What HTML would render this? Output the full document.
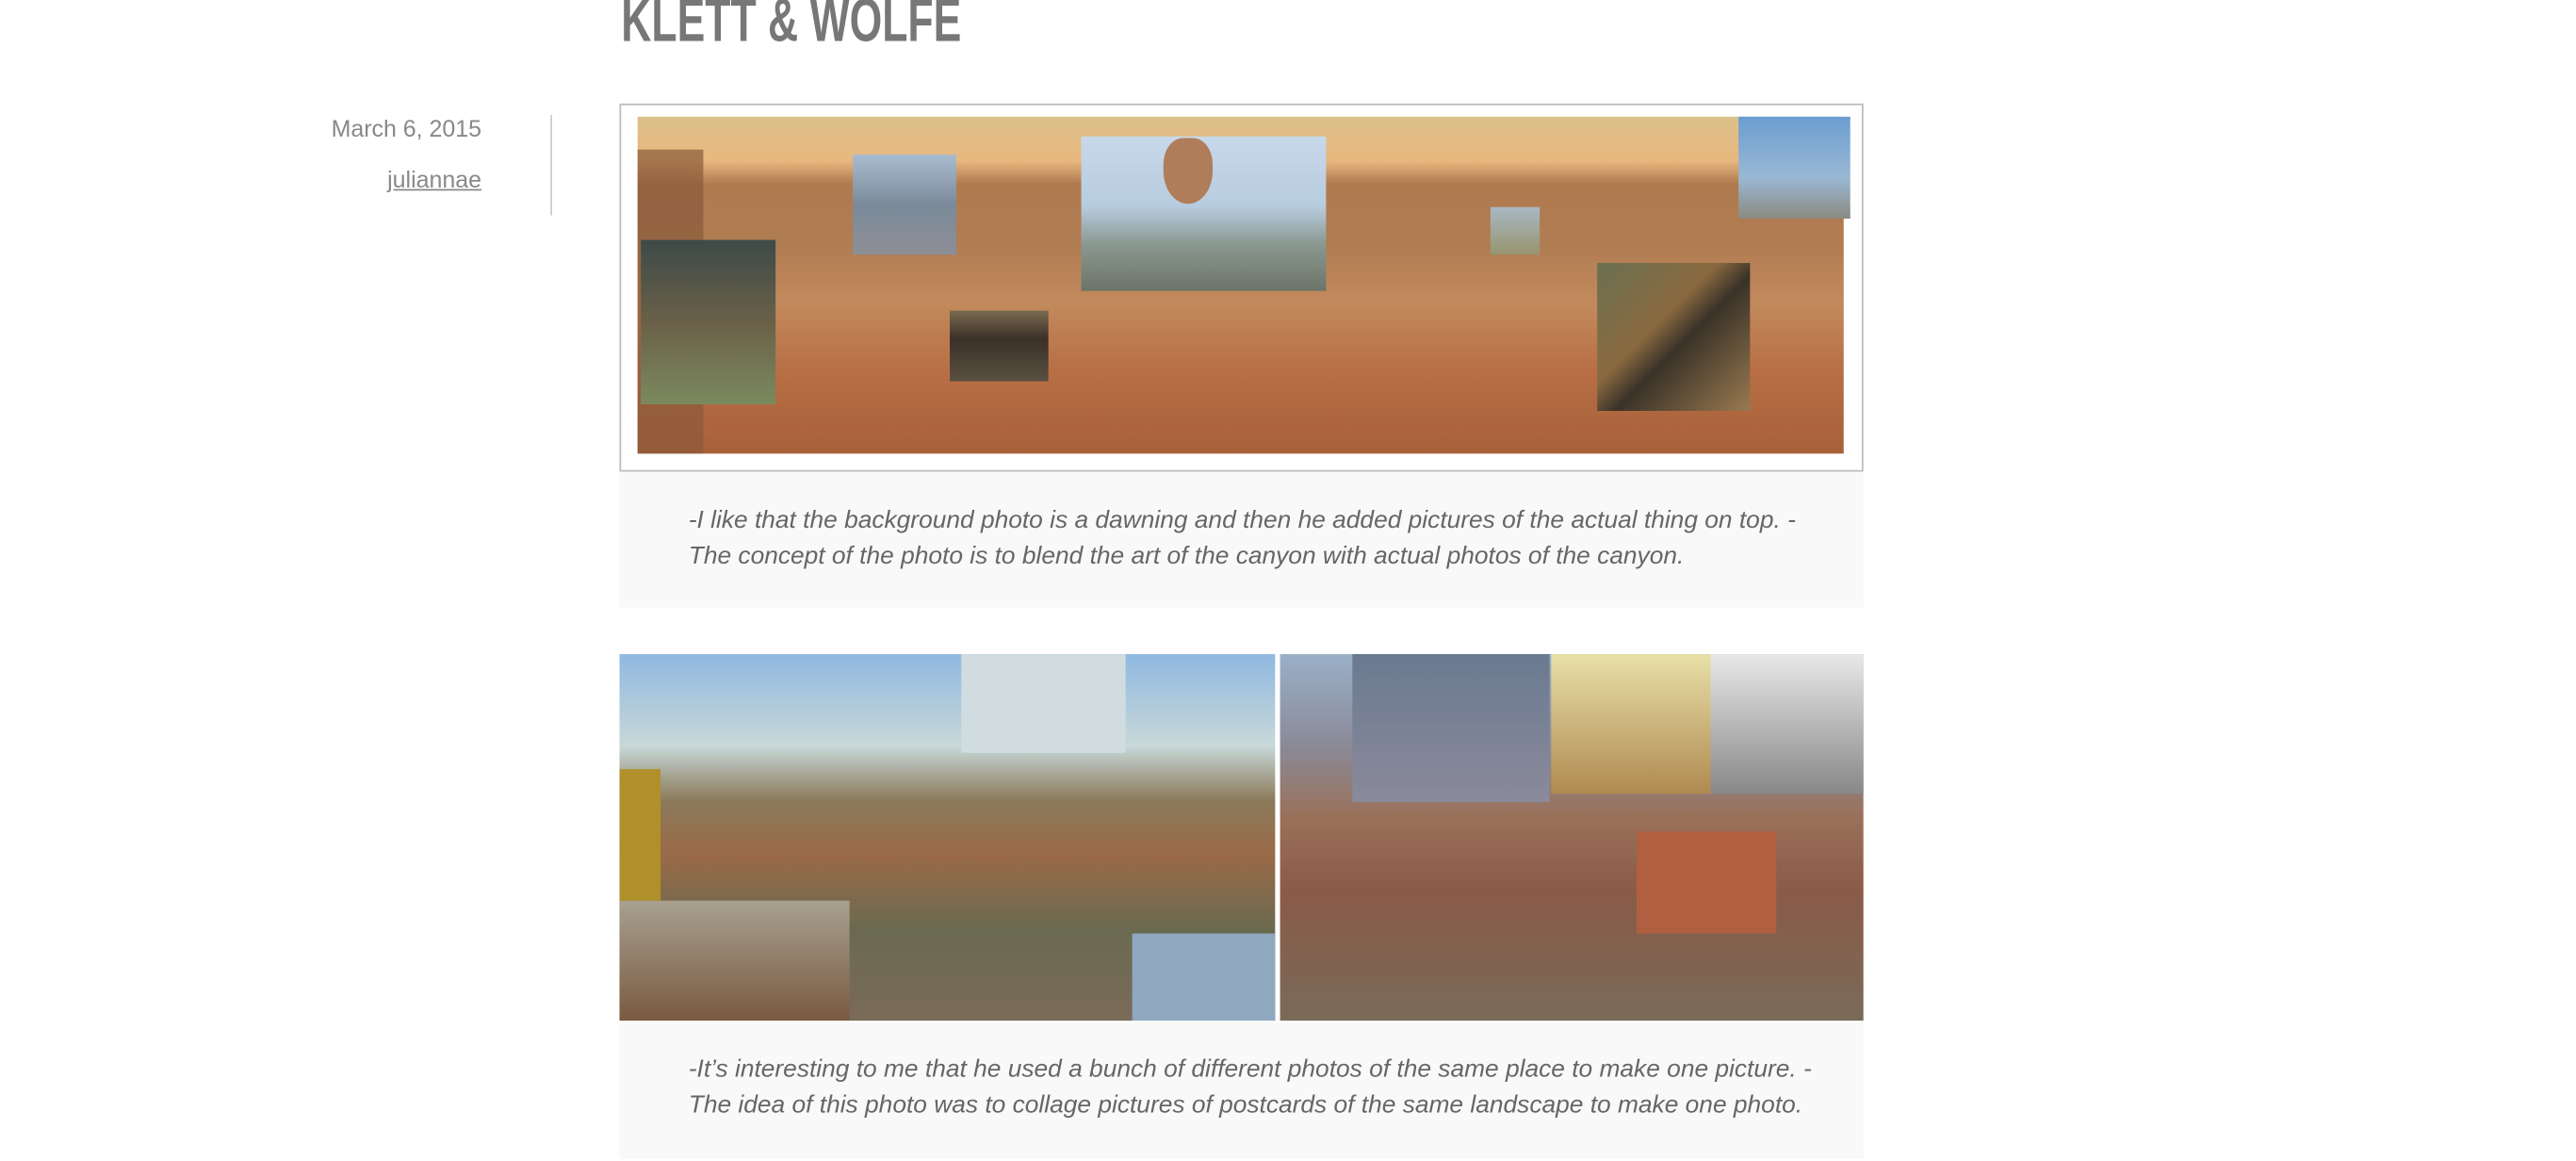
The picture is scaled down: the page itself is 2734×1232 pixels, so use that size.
<!DOCTYPE html>
<html><head><meta charset="utf-8">
<style>
html,body{margin:0;padding:0;background:#fff;width:2734px;height:1232px;overflow:hidden}
#wrap{position:absolute;left:0;top:0;width:1570px;height:706px;transform:scale(1.744);transform-origin:0 0;font-family:"Liberation Sans",sans-serif}
.abs{position:absolute}
.title{left:378px;top:-8px;font-size:37px;font-weight:bold;color:#777;transform:scaleX(0.69);transform-origin:0 0;white-space:nowrap}
.meta{font-size:14.3px;color:#888;text-align:right;right:1277px;white-space:nowrap}
.cap{background:#f9f9f9;left:377px;width:757px}
.cap p{margin:0;position:absolute;left:42px;font-style:italic;font-size:15.1px;color:#666;white-space:nowrap;line-height:22px}
.ov{position:absolute}
</style></head><body>
<div id="wrap">
<div class="abs title">KLETT &amp; WOLFE</div>
<div class="abs meta" style="top:71px">March 6, 2015</div>
<div class="abs meta" style="top:102px;text-decoration:underline">juliannae</div>
<div class="abs" style="left:335px;top:70px;width:1px;height:61px;background:#ccc"></div>

<div class="abs" style="left:377px;top:63px;width:755px;height:222px;border:1px solid #bbb;background:#fff">
 <div class="abs" style="left:10px;top:7px;width:734px;height:205px;background:linear-gradient(180deg,#dcc08a 0%,#e8b87f 13%,#b07a4f 20%,#b07c52 38%,#c28a5c 55%,#b86f45 75%,#a8603a 100%)">
  <div class="ov" style="left:0;top:20px;width:40px;height:185px;background:#8a5a3a;opacity:.7"></div>
  <div class="ov" style="left:2px;top:75px;width:82px;height:100px;background:linear-gradient(180deg,#3d4a48,#6a6048 50%,#7b8a5e)"></div>
  <div class="ov" style="left:131px;top:23px;width:63px;height:61px;background:linear-gradient(180deg,#a9bdd0,#7a8a9a 50%,#8e8e96)"></div>
  <div class="ov" style="left:190px;top:118px;width:60px;height:43px;background:linear-gradient(180deg,#7a6a50,#3a3028 40%,#5a5040)"></div>
  <div class="ov" style="left:270px;top:12px;width:149px;height:94px;background:linear-gradient(180deg,#c7d8ea,#b8cce0 45%,#8a9890 70%,#6c7468)"></div>
  <div class="ov" style="left:320px;top:13px;width:30px;height:40px;background:#b07d5a;border-radius:40% 40% 50% 50%"></div>
  <div class="ov" style="left:519px;top:55px;width:30px;height:29px;background:linear-gradient(180deg,#a8b8c4,#98946e)"></div>
  <div class="ov" style="left:584px;top:89px;width:93px;height:90px;background:linear-gradient(135deg,#6a7050,#8a6a40 40%,#3a3228 55%,#9a7a50)"></div>
  <div class="ov" style="left:670px;top:0;width:68px;height:62px;background:linear-gradient(180deg,#6a9ed0,#9ab8d4 60%,#8a8a80)"></div>
 </div>
</div>
<div class="abs cap" style="top:287px;height:83px">
 <p style="top:19px">-I like that the background photo is a dawning and then he added pictures of the actual thing on top. -</p>
 <p style="top:41px">The concept of the photo is to blend the art of the canyon with actual photos of the canyon.</p>
</div>

<div class="abs" style="left:377px;top:398px;width:399px;height:223px;background:linear-gradient(180deg,#8fb8e0 0%,#c8d8d8 25%,#8a7a5a 40%,#9a6a48 55%,#6a6a50 75%,#7a6a58 100%)">
 <div class="ov" style="left:0;top:150px;width:140px;height:73px;background:linear-gradient(180deg,#a8a090,#7a5a40)"></div>
 <div class="ov" style="left:208px;top:0;width:100px;height:60px;background:#d0dce0"></div>
 <div class="ov" style="left:312px;top:170px;width:87px;height:53px;background:#8fa8c0"></div>
 <div class="ov" style="left:0;top:70px;width:25px;height:80px;background:#b0902a"></div>
</div>
<div class="abs" style="left:779px;top:398px;width:355px;height:223px;background:linear-gradient(180deg,#9ab0c8 0%,#8a8a98 25%,#9a7058 45%,#8a5a48 65%,#7a6a58 100%)">
 <div class="ov" style="left:44px;top:0;width:120px;height:90px;background:linear-gradient(180deg,#6a7a90,#8a8a9a)"></div>
 <div class="ov" style="left:165px;top:0;width:97px;height:85px;background:linear-gradient(180deg,#e8e0a8,#b08a50)"></div>
 <div class="ov" style="left:262px;top:0;width:93px;height:85px;background:linear-gradient(180deg,#e8e8e8,#888)"></div>
 <div class="ov" style="left:217px;top:108px;width:85px;height:62px;background:#b06040"></div>
</div>
<div class="abs cap" style="top:621px;height:84px">
 <p style="top:19px">-It’s interesting to me that he used a bunch of different photos of the same place to make one picture. -</p>
 <p style="top:41px">The idea of this photo was to collage pictures of postcards of the same landscape to make one photo.</p>
</div>
</div>
</body></html>
